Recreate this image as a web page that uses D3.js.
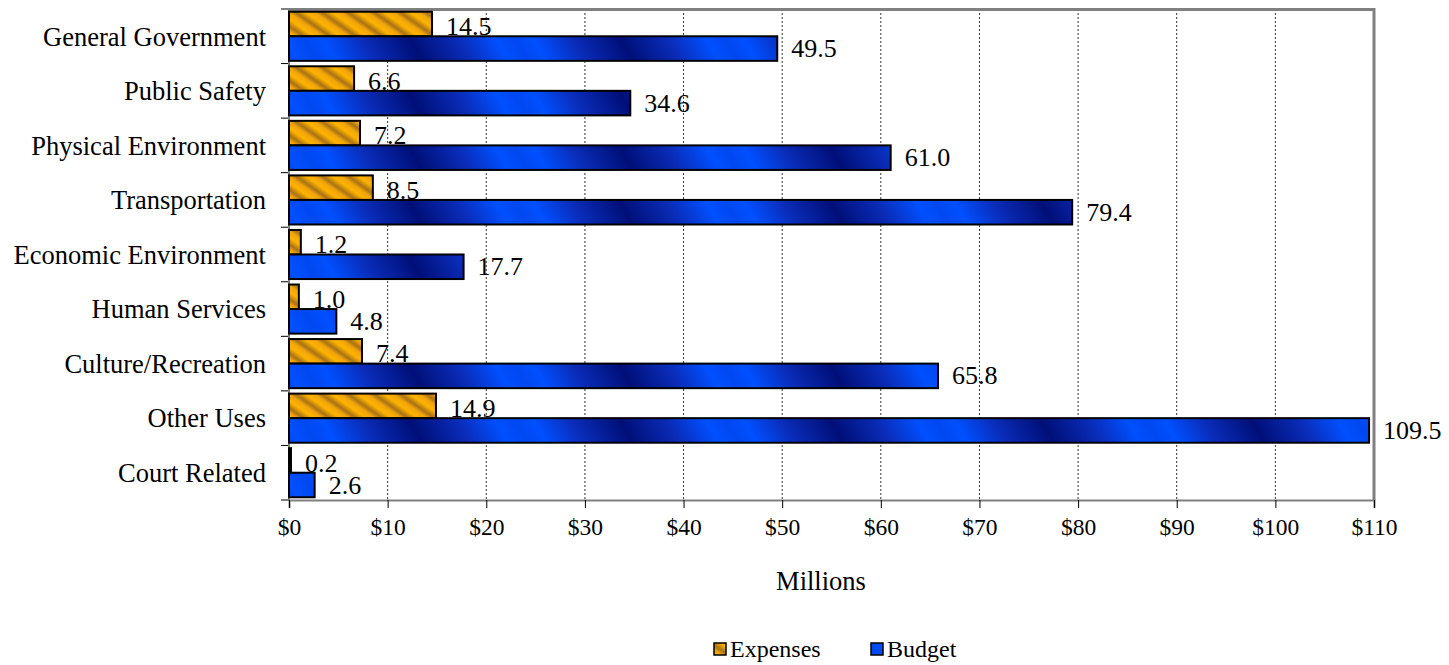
<!DOCTYPE html>
<html>
<head>
<meta charset="utf-8">
<script src="https://cdn.jsdelivr.net/npm/d3@7"></script>
<style>
  body { margin: 0; background: #fff; }
  svg { display: block; }
  text { font-family: "Liberation Serif", "Times New Roman", serif; fill: #000; }
</style>
</head>
<body>
<div id="chart"></div>
<script>
'use strict';

var categories = ['General Government', 'Public Safety', 'Physical Environment', 'Transportation',
	'Economic Environment', 'Human Services', 'Culture/Recreation', 'Other Uses', 'Court Related'];
var expenses = [14.5, 6.6, 7.2, 8.5, 1.2, 1.0, 7.4, 14.9, 0.2];
var budget = [49.5, 34.6, 61.0, 79.4, 17.7, 4.8, 65.8, 109.5, 2.6];
var seriesNames = ['Expenses', 'Budget'];
var xTicks = [0, 10, 20, 30, 40, 50, 60, 70, 80, 90, 100, 110];

var width = 1449, height = 665;
var margin = {top: 9, right: 75, bottom: 165, left: 289};
var innerW = width - margin.left - margin.right;
var innerH = height - margin.top - margin.bottom;

var svg = d3.select('#chart').append('svg')
	.attr('width', width)
	.attr('height', height);

// fills
var defs = svg.append('defs');

var expPat = defs.append('pattern')
	.attr('id', 'expFill')
	.attr('patternUnits', 'userSpaceOnUse')
	.attr('width', 15).attr('height', 15)
	.attr('patternTransform', 'rotate(35)');
var expGrad = defs.append('linearGradient')
	.attr('id', 'expGrad')
	.attr('x1', 0).attr('y1', 0).attr('x2', 0).attr('y2', 1);
expGrad.append('stop').attr('offset', '0%').attr('stop-color', '#eea20c');
expGrad.append('stop').attr('offset', '40%').attr('stop-color', '#ffb400');
expGrad.append('stop').attr('offset', '78%').attr('stop-color', '#a87214');
expGrad.append('stop').attr('offset', '100%').attr('stop-color', '#e39b0e');
expPat.append('rect').attr('width', 15).attr('height', 15).attr('fill', 'url(#expGrad)');

var budGrad = defs.append('linearGradient')
	.attr('id', 'budFill')
	.attr('gradientUnits', 'userSpaceOnUse')
	.attr('spreadMethod', 'reflect')
	.attr('x1', 0).attr('y1', 0).attr('x2', 80).attr('y2', -45);
budGrad.append('stop').attr('offset', '0%').attr('stop-color', '#0048f0');
budGrad.append('stop').attr('offset', '18%').attr('stop-color', '#0050ff');
budGrad.append('stop').attr('offset', '55%').attr('stop-color', '#0a2cb8');
budGrad.append('stop').attr('offset', '100%').attr('stop-color', '#000f78');

var fills = {Expenses: 'url(#expFill)', Budget: 'url(#budFill)'};

var g = svg.append('g')
	.attr('transform', 'translate(' + margin.left + ',' + margin.top + ')');

var x = d3.scaleLinear().domain([0, 110]).range([0, innerW]);
var y = d3.scaleBand().domain(categories).range([0, innerH])
	.paddingInner(0.1).paddingOuter(0.05);
var y1 = d3.scaleBand().domain(seriesNames).range([0, y.bandwidth()]);

// grid
g.append('g').selectAll('line.grid')
	.data(xTicks.slice(1, -1))
	.enter().append('line')
	.attr('class', 'grid')
	.attr('x1', function(d){ return x(d); })
	.attr('x2', function(d){ return x(d); })
	.attr('y1', 0).attr('y2', innerH)
	.attr('stroke', '#333')
	.attr('stroke-width', 1)
	.attr('stroke-dasharray', '2,2');

// plot frame (top/right)
g.append('path')
	.attr('d', 'M0,0.5H' + innerW + 'V' + innerH)
	.attr('fill', 'none')
	.attr('stroke', '#808080')
	.attr('stroke-width', 3);

// axes
var xAxis = d3.axisBottom(x).tickValues(xTicks).tickSize(8).tickPadding(10)
	.tickFormat(function(d){ return '$' + d; });
var gx = g.append('g')
	.attr('transform', 'translate(0,' + innerH + ')')
	.call(xAxis);
gx.select('.domain').attr('stroke', '#808080').attr('stroke-width', 2);
gx.selectAll('.tick line').attr('stroke', '#000');
gx.selectAll('text').style('font-size', '23.5px').attr('font-family', null);

var yBounds = d3.range(categories.length + 1).map(function(i){ return i * innerH / categories.length; });
g.append('g').selectAll('line.ytick')
	.data(yBounds)
	.enter().append('line')
	.attr('x1', -8).attr('x2', 0)
	.attr('y1', function(d){ return d; })
	.attr('y2', function(d){ return d; })
	.attr('stroke', '#000');
g.append('line')
	.attr('x1', 0).attr('x2', 0).attr('y1', 0).attr('y2', innerH)
	.attr('stroke', '#808080').attr('stroke-width', 2);

g.append('g').selectAll('text.cat')
	.data(categories)
	.enter().append('text')
	.attr('class', 'cat')
	.attr('x', -23)
	.attr('y', function(d){ return y(d) + y.bandwidth() / 2; })
	.attr('dy', '0.35em')
	.attr('text-anchor', 'end')
	.style('font-size', '26.5px')
	.text(function(d){ return d; });

// bars
var rows = categories.map(function(c, i){
	return {cat: c, values: [{key: 'Expenses', v: expenses[i]}, {key: 'Budget', v: budget[i]}]};
});

var grp = g.append('g').selectAll('g.row')
	.data(rows)
	.enter().append('g')
	.attr('class', 'row')
	.attr('transform', function(d){ return 'translate(0,' + y(d.cat) + ')'; });

grp.selectAll('rect')
	.data(function(d){ return d.values; })
	.enter().append('rect')
	.attr('x', 0)
	.attr('y', function(d){ return y1(d.key); })
	.attr('width', function(d){ return x(d.v); })
	.attr('height', y1.bandwidth())
	.attr('fill', function(d){ return fills[d.key]; })
	.attr('stroke', '#000')
	.attr('stroke-width', 2);

grp.selectAll('text')
	.data(function(d){ return d.values; })
	.enter().append('text')
	.attr('x', function(d){ return x(d.v) + 14; })
	.attr('y', function(d){ return y1(d.key) + y1.bandwidth() / 2 + (d.key === 'Expenses' ? 2 : -0.5); })
	.attr('dy', '0.35em')
	.style('font-size', '26px')
	.text(function(d){ return d.v.toFixed(1); });

// axis title
svg.append('text')
	.attr('x', 821)
	.attr('y', 581)
	.attr('dy', '0.35em')
	.attr('text-anchor', 'middle')
	.style('font-size', '26.5px')
	.text('Millions');

// legend
var legend = svg.append('g').attr('transform', 'translate(714,649)');
var legX = [0, 157];
var li = legend.selectAll('g')
	.data(seriesNames)
	.enter().append('g')
	.attr('transform', function(d, i){ return 'translate(' + legX[i] + ',0)'; });
li.append('rect')
	.attr('x', 0).attr('y', -6)
	.attr('width', 12).attr('height', 12)
	.attr('fill', function(d){ return fills[d]; })
	.attr('stroke', '#000').attr('stroke-width', 1.5);
li.append('text')
	.attr('x', 16).attr('y', 0)
	.attr('dy', '0.35em')
	.style('font-size', '24px')
	.text(function(d){ return d; });
</script>
</body>
</html>
